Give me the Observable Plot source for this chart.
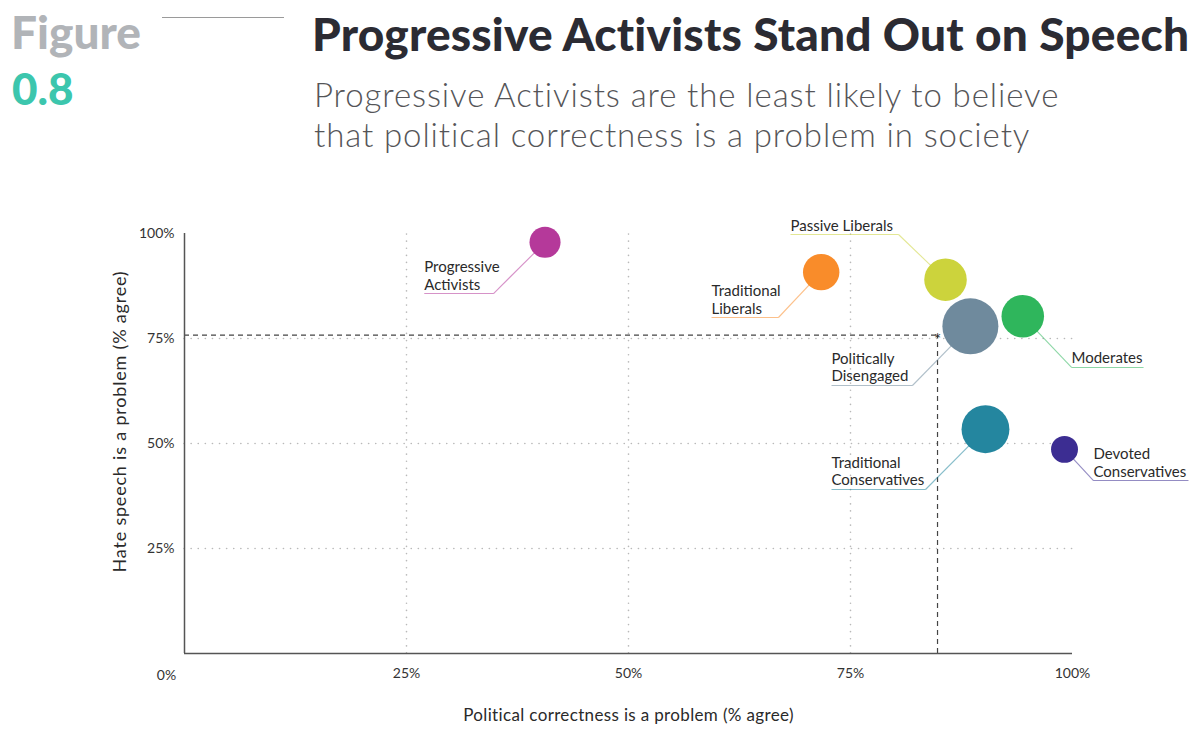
<!DOCTYPE html>
<html>
<head>
<meta charset="utf-8">
<script src="https://cdn.jsdelivr.net/npm/d3@7"></script>
<script src="https://cdn.jsdelivr.net/npm/@observablehq/plot@0.6"></script>
<style>
  html, body { margin: 0; padding: 0; background: #fff; }
  body { width: 1200px; height: 730px; position: relative; overflow: hidden; font-family: Lato, "Open Sans", sans-serif; }
  #header { position: absolute; left: 0; top: 0; }
  #chart { position: absolute; left: 0; top: 170px; }
</style>
</head>
<body>
<svg id="header" width="1200" height="170" xmlns="http://www.w3.org/2000/svg">
  <text x="11" y="49" font-family="Lato" font-weight="900" font-size="46" fill="#b1b4b8">Figure</text>
  <text x="12" y="105" font-family="Lato" font-weight="900" font-size="44" fill="#3cc6ad">0.8</text>
  <line x1="162" x2="284" y1="17.5" y2="17.5" stroke="#9a9a9a" stroke-width="1.2"></line>
  <text x="312" y="51" font-family="Lato" font-weight="900" font-size="46" letter-spacing="0.2" fill="#2b2b33">Progressive Activists Stand Out on Speech</text>
  <text x="314" y="107" font-family="Lato" font-weight="300" font-size="33" letter-spacing="0.9" fill="#555558">Progressive Activists are the least likely to believe</text>
  <text x="314" y="147" font-family="Lato" font-weight="300" font-size="33" letter-spacing="0.9" fill="#555558">that political correctness is a problem in society</text>
</svg>
<div id="chart"></div>
<script>
// ---- data ----
const groups = ["Progressive Activists", "Traditional Liberals", "Passive Liberals", "Politically Disengaged", "Moderates", "Traditional Conservatives", "Devoted Conservatives"];
const pcProblem = [40.6, 71.7, 85.7, 88.5, 94.4, 90.2, 99.1];          // x, % agree
const hateSpeechProblem = [97.9, 90.8, 89.0, 77.9, 80.3, 53.4, 48.6];  // y, % agree
const groupShare = [8, 11, 15, 26, 15, 19, 6];                         // bubble size, % of population
const groupColors = ["#b5399a", "#f98c2a", "#ccd33c", "#6f8a9d", "#2fb65c", "#24869f", "#3c2d92"];
const averagePC = 84.8;
const averageHate = 75.8;
const xTicks = [0, 25, 50, 75, 100];
const yTicks = [25, 50, 75, 100];
const gridTicks = [25, 50, 75];
const xLabel = "Political correctness is a problem (% agree)";
const yLabel = "Hate speech is a problem (% agree)";

// ---- label annotation layout (in data units) ----
const labelText = ["Progressive\nActivists", "Traditional\nLiberals", "Passive Liberals", "Politically\nDisengaged", "Moderates", "Traditional\nConservatives", "Devoted\nConservatives"];
const labelLeft = [27.0, 59.35, 68.24, 72.86, 99.89, 72.86, 102.36];
const labelRight = [34.8, 66.89, 80.41, 81.98, 108.0, 83.45, 113.06];
const labelLine = [85.71, 80.0, 99.76, 63.81, 68.10, 39.05, 41.19];
const elbowOnLeft = [false, false, false, false, true, false, true];

const data = groups.map((g, i) => ({
  group: g, x: pcProblem[i], y: hateSpeechProblem[i], share: groupShare[i], color: groupColors[i],
  label: labelText[i], lx1: labelLeft[i], lx2: labelRight[i], ly: labelLine[i],
  ex: elbowOnLeft[i] ? labelLeft[i] : labelRight[i]
}));

const grid = {stroke: "#b9b9b9", strokeWidth: 1.6, strokeDasharray: "0.1,7", strokeLinecap: "round"};
const dash = {stroke: "#444", strokeWidth: 1.2, strokeDasharray: "5,4"};

const chart = Plot.plot({
  width: 1200,
  height: 560,
  marginLeft: 184,
  marginRight: 128,
  marginTop: 63,
  marginBottom: 77,
  style: {fontFamily: "Lato, 'Open Sans', sans-serif", fontSize: "14px", color: "#333", background: "#fff", overflow: "visible"},
  x: {domain: [0, 100]},
  y: {domain: [0, 100]},
  r: {type: "sqrt", domain: [0, 26], range: [0, 28]},
  marks: [
    Plot.ruleY(gridTicks, {x1: 0, x2: 100, ...grid}),
    Plot.ruleX(gridTicks, {y1: 0, y2: 100, ...grid}),
    Plot.ruleY([averageHate], {x1: 0, x2: averagePC, ...dash}),
    Plot.ruleX([averagePC], {y1: 0, y2: averageHate, ...dash}),
    Plot.text([{x: averagePC, y: averageHate}], {x: "x", y: "y", text: () => "*", fontSize: 17, fill: "#333", dy: 5, textAnchor: "middle"}),
    Plot.ruleX([0], {y1: 0, y2: 100, stroke: "#555", strokeWidth: 1.5}),
    Plot.ruleY([0], {x1: 0, x2: 100, stroke: "#555", strokeWidth: 1.5}),
    // leader lines
    Plot.link(data, {x1: "ex", y1: "ly", x2: "x", y2: "y", stroke: "color", strokeOpacity: 0.55, strokeWidth: 1.1}),
    Plot.link(data, {x1: "lx1", y1: "ly", x2: "lx2", y2: "ly", stroke: "color", strokeOpacity: 0.55, strokeWidth: 1.1}),
    Plot.dot(data, {x: "x", y: "y", r: "share", fill: "color", stroke: "none"}),
    Plot.text(data, {x: "lx1", y: "ly", text: "label", textAnchor: "start", lineAnchor: "bottom", dy: -4, fontSize: 15, fill: "#2a2a2a", lineHeight: 1.17}),
    Plot.axisX(xTicks.filter(d => d > 0), {tickSize: 0, tickPadding: 15, tickFormat: d => d + "%", fontSize: 14, fill: "#333", label: null}),
    Plot.text(xTicks.filter(d => d === 0), {x: d => d, y: 0, text: d => d + "%", dx: -18, dy: 22, fontSize: 14, fill: "#333"}),
    Plot.axisY(yTicks, {tickSize: 0, tickPadding: 10, tickFormat: d => d + "%", fontSize: 14, fill: "#333", label: null}),
    Plot.text([xLabel], {frameAnchor: "bottom", text: d => d, dy: 62, lineAnchor: "middle", textAnchor: "middle", fontSize: 17, fill: "#2a2a2a"}),
    Plot.text([yLabel], {frameAnchor: "left", text: d => d, dx: -64, dy: -22, rotate: -90, lineAnchor: "middle", textAnchor: "middle", fontSize: 18, fill: "#2a2a2a"})
  ]
});
// letter spacing for the axis titles (not a Plot text option)
d3.select(chart).selectAll("text").filter(function () { return this.textContent === xLabel; }).attr("letter-spacing", "0.35");
d3.select(chart).selectAll("text").filter(function () { return this.textContent === yLabel; }).attr("letter-spacing", "0.8");
document.getElementById("chart").appendChild(chart);
</script>
</body>
</html>
